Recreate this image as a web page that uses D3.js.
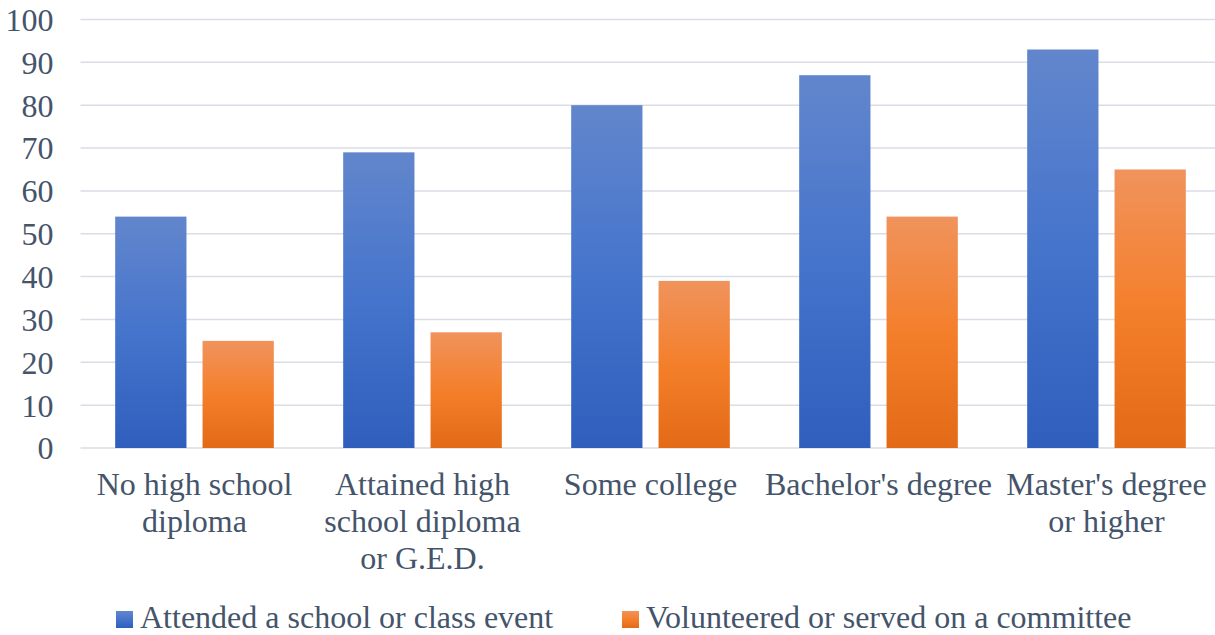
<!DOCTYPE html>
<html>
<head>
<meta charset="utf-8">
<script src="https://cdn.jsdelivr.net/npm/d3@7"></script>
<style>
  body { margin: 0; background: #fff; }
  text { font-family: "Liberation Serif", "Times New Roman", serif; fill: #44546a; }
</style>
</head>
<body>
<div id="canvas"></div>
<script>
const categories = [
  ["No high school", "diploma"],
  ["Attained high", "school diploma", "or G.E.D."],
  ["Some college"],
  ["Bachelor's degree"],
  ["Master's degree", "or higher"]
];
const seriesNames = ["Attended a school or class event", "Volunteered or served on a committee"];
const attended = [54, 69, 80, 87, 93];
const volunteered = [25, 27, 39, 54, 65];
const yTicks = [0, 10, 20, 30, 40, 50, 60, 70, 80, 90, 100];

const width = 1215, height = 635;
const margin = { top: 19.5, left: 80.5, bottom: 187, right: -5.5 };
const iwidth = width - margin.left - margin.right;
const iheight = height - margin.top - margin.bottom;

const svg = d3.select("#canvas").append("svg")
  .attr("width", width).attr("height", height);

const defs = svg.append("defs");
const grads = [
  { id: "gBlue", stops: ["#6286cc", "#4574cc", "#2f5ebd"] },
  { id: "gOrange", stops: ["#f0935c", "#f47f2b", "#e36a17"] }
];
grads.forEach(gr => {
  const lg = defs.append("linearGradient").attr("id", gr.id)
    .attr("x1", 0).attr("y1", 0).attr("x2", 0).attr("y2", 1);
  gr.stops.forEach((c, i) => lg.append("stop").attr("offset", i / 2).attr("stop-color", c));
});

const g = svg.append("g").attr("transform", `translate(${margin.left},${margin.top})`);

const y = d3.scaleLinear().domain([0, 100]).range([iheight, 0]);
const x = d3.scaleBand().domain(d3.range(categories.length)).range([0, iwidth]);
const xs = d3.scaleBand().domain([0, 1]).range([0, x.bandwidth()])
  .paddingInner(0.184).paddingOuter(0.397);

// gridlines
g.append("g")
  .selectAll("line").data(yTicks).enter().append("line")
  .attr("x1", 0).attr("x2", iwidth)
  .attr("y1", d => y(d)).attr("y2", d => y(d))
  .attr("stroke", "#d9dde5").attr("stroke-width", 1.5);

// y labels
const yAxis = g.append("g").call(d3.axisLeft(y).tickValues(yTicks).tickSize(0).tickPadding(27));
yAxis.select(".domain").remove();
yAxis.selectAll("text")
  .style("font-family", "Liberation Serif, serif").style("font-size", "32px")
  .attr("fill", "#44546a").attr("dy", "0.34em");

// bars
const series = [attended, volunteered];
series.forEach((vals, si) => {
  g.append("g").selectAll("rect").data(vals).enter().append("rect")
    .attr("x", (d, i) => x(i) + xs(si))
    .attr("y", d => y(d))
    .attr("width", xs.bandwidth())
    .attr("height", d => iheight - y(d))
    .attr("fill", `url(#${grads[si].id})`);
});

// category labels
const lab = g.append("g").selectAll("text").data(categories).enter().append("text")
  .attr("x", (d, i) => x(i) + x.bandwidth() / 2)
  .attr("y", iheight + 47)
  .attr("text-anchor", "middle")
  .style("font-size", "32px");
lab.selectAll("tspan").data(d => d).enter().append("tspan")
  .attr("x", function () { return d3.select(this.parentNode).attr("x"); })
  .attr("dy", (d, i) => i === 0 ? 0 : 37)
  .text(d => d);

// legend
const legend = svg.append("g").attr("transform", "translate(0,628)");
const legX = [116, 622];
seriesNames.forEach((name, i) => {
  legend.append("rect").attr("x", legX[i]).attr("y", -17).attr("width", 17).attr("height", 17)
    .attr("fill", `url(#${grads[i].id})`);
  legend.append("text").attr("x", legX[i] + 24).attr("y", 0)
    .style("font-size", "32px").text(name);
});
</script>
</body>
</html>
